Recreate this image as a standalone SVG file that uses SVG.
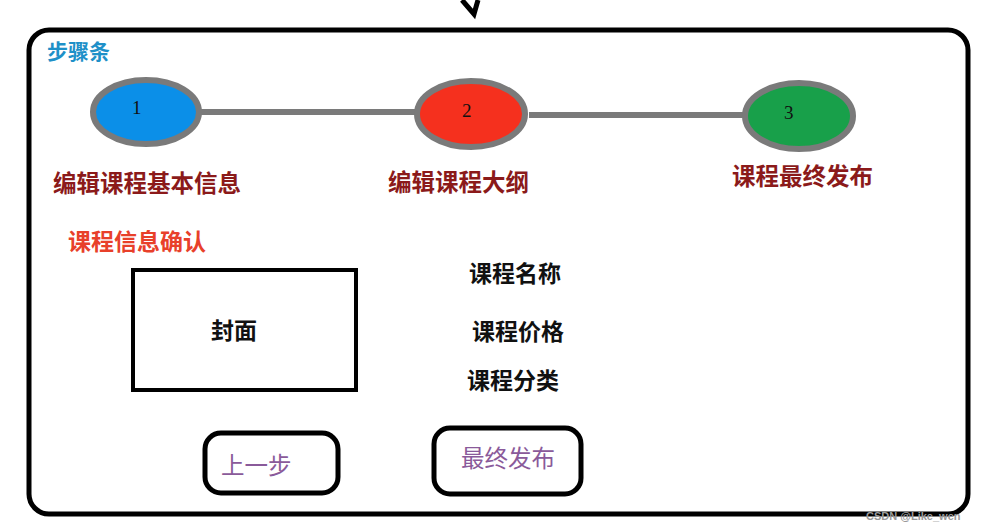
<svg xmlns="http://www.w3.org/2000/svg" width="987" height="531" viewBox="0 0 987 531">
<style>
text{font-family:"Liberation Sans","Noto Sans CJK SC",sans-serif;font-weight:bold}
.st{fill:#8b1a1a;font-size:23.5px}
.num{font-family:"Liberation Serif",serif;font-size:19px;font-weight:normal;fill:#111}
.ov{stroke:#7a7a7a;stroke-width:6}
.bk{fill:#111;font-size:23px}
.btn{fill:#fff;stroke:#000;stroke-width:5}
.bt{fill:#8a5a9a;font-size:23.5px;font-weight:normal}
</style>
<rect width="987" height="531" fill="#fff"/>
<path d="M462 0 L474 14 L478 0" fill="none" stroke="#000" stroke-width="5"/>
<rect id="frame" x="29" y="30" width="939" height="484" rx="20" fill="none" stroke="#000" stroke-width="5"/>
<text x="47" y="59" fill="#1e90c8" font-size="21">步骤条</text>
<g id="connectors"><line x1="200" y1="112" x2="416" y2="112" stroke="#7a7a7a" stroke-width="6"/><line x1="529" y1="115" x2="745" y2="115" stroke="#7a7a7a" stroke-width="6"/></g>
<g id="s1"><ellipse cx="146" cy="112" rx="53" ry="32" fill="#0b8fe8" class="ov"/><text x="132" y="114" class="num">1</text></g>
<g id="s2"><ellipse cx="471" cy="114" rx="54" ry="33" fill="#f5301e" class="ov"/><text x="462" y="117" class="num">2</text></g>
<g id="s3"><ellipse cx="799" cy="116" rx="54" ry="33" fill="#18a04a" class="ov"/><text x="784" y="119" class="num">3</text></g>
<text x="53" y="192" class="st">编辑课程基本信息</text>
<text x="388" y="191" class="st">编辑课程大纲</text>
<text x="732" y="185" class="st">课程最终发布</text>
<text x="68" y="250" fill="#e8402a" font-size="23">课程信息确认</text>
<g id="cover"><rect x="133" y="270" width="223" height="120" fill="#fff" stroke="#000" stroke-width="4"/><text x="211" y="339" class="bk">封面</text></g>
<text x="469" y="282" class="bk">课程名称</text>
<text x="472" y="340" class="bk">课程价格</text>
<text x="467" y="389" class="bk">课程分类</text>
<g id="prev"><rect x="205" y="433" width="133" height="60" rx="16" class="btn"/><text x="221" y="474" class="bt">上一步</text></g>
<g id="publish"><rect x="434" y="428" width="147" height="66" rx="16" class="btn"/><text x="461" y="467" class="bt">最终发布</text></g>
<text x="866" y="520" fill="#999" font-size="11" font-weight="normal">CSDN @Like_wen</text>
</svg>
